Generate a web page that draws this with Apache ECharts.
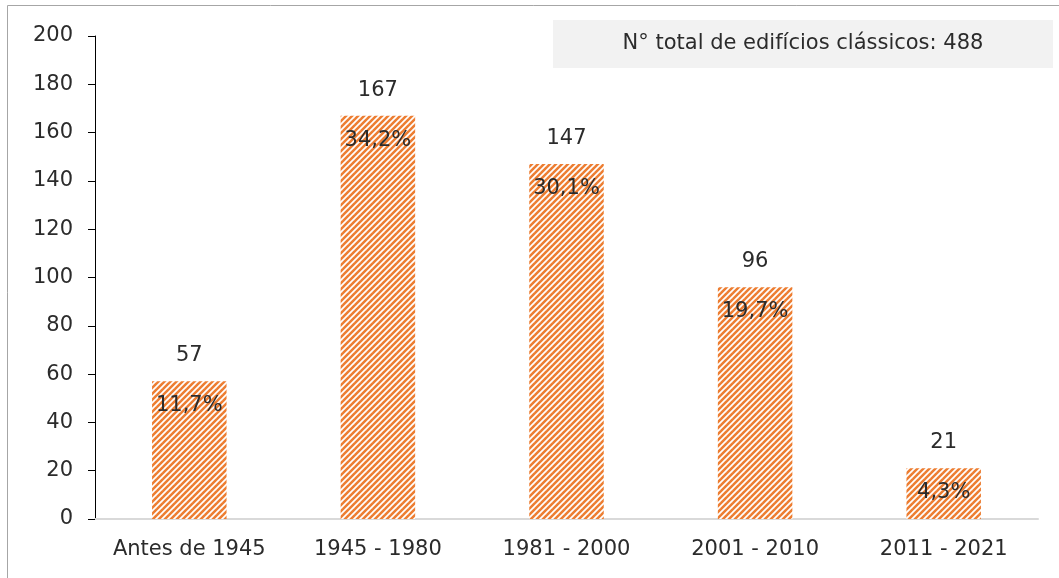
<!DOCTYPE html>
<html>
<head>
<meta charset="utf-8">
<title>Edifícios clássicos por época de construção</title>
<script src="https://cdn.jsdelivr.net/npm/echarts@6/dist/echarts.min.js"></script>
<style>
  html, body { margin: 0; padding: 0; background: #fff; }
  #chart { width: 1059px; height: 578px; }
</style>
</head>
<body>
<div id="chart"></div>
<script>
// Época de construção dos edifícios clássicos
const categories = ['Antes de 1945', '1945 - 1980', '1981 - 2000', '2001 - 2010', '2011 - 2021'];
const buildings = [57, 167, 147, 96, 21];
const totalBuildings = 488;
const yTicks = { min: 0, max: 200, interval: 20 };

const FONT = 'DejaVu Sans';
const FONT_SIZE = 21;
const TEXT = '#2b2b2b';
const ORANGE = '#ED7D31';

// Diagonal hatch fill ("/" stripes) for the bars
function stripeTile() {
  const size = 6;
  const c = document.createElement('canvas');
  c.width = size; c.height = size;
  const g = c.getContext('2d');
  g.fillStyle = '#ffffff';
  g.fillRect(0, 0, size, size);
  g.strokeStyle = ORANGE;
  g.lineWidth = 2.5;
  for (let k = -1; k <= 1; k++) {
    g.beginPath();
    g.moveTo(k * size - 1, size + 1);
    g.lineTo(k * size + size + 1, -1);
    g.stroke();
  }
  return c;
}

const pct = v => (v / totalBuildings * 100).toFixed(1).replace('.', ',') + '%';

const chart = echarts.init(document.getElementById('chart'), null, { renderer: 'canvas' });
chart.setOption({
  animation: false,
  backgroundColor: '#ffffff',
  grid: { left: 95, right: 21, top: 36, bottom: 59, containLabel: false },
  xAxis: {
    type: 'category',
    data: categories,
    axisLine: { show: true, lineStyle: { color: '#d9d9d9', width: 2 } },
    axisTick: { show: false },
    axisLabel: { interval: 0, color: TEXT, fontFamily: FONT, fontSize: FONT_SIZE, margin: 20 }
  },
  yAxis: {
    type: 'value',
    min: yTicks.min, max: yTicks.max, interval: yTicks.interval,
    splitLine: { show: false },
    axisLine: { show: true, lineStyle: { color: '#000000', width: 1 } },
    axisTick: { show: true, inside: false, length: 7, lineStyle: { color: '#000000' } },
    axisLabel: { color: TEXT, fontFamily: FONT, fontSize: FONT_SIZE, margin: 22 }
  },
  series: [
    {
      type: 'bar',
      data: buildings,
      barWidth: '39.5%',
      itemStyle: { color: { image: stripeTile(), repeat: 'repeat' } },
      label: {
        show: true, position: 'top', distance: 15,
        color: TEXT, fontFamily: FONT, fontSize: FONT_SIZE
      }
    },
    {
      // percentage of the total, written inside the top of each bar
      type: 'bar',
      data: buildings,
      barWidth: '39.5%',
      barGap: '-100%',
      silent: true,
      itemStyle: { color: 'rgba(0,0,0,0)' },
      label: {
        show: true, position: 'insideTop', distance: 14,
        formatter: p => pct(p.value),
        color: TEXT, fontFamily: FONT, fontSize: FONT_SIZE
      },
      z: 3
    }
  ],
  graphic: [
    {
      type: 'rect', z: -1, silent: true,
      shape: { x: 7.5, y: 5.5, width: 1100, height: 620 },
      style: { fill: 'none', stroke: '#a6a6a6', lineWidth: 1 }
    },
    {
      type: 'group', left: 553, top: 20,
      children: [
        { type: 'rect', shape: { x: 0, y: 0, width: 500, height: 48 }, style: { fill: '#f2f2f2' } },
        {
          type: 'text', x: 250, y: 24,
          style: {
            text: 'N° total de edifícios clássicos: ' + totalBuildings,
            fill: TEXT, font: FONT_SIZE + 'px "' + FONT + '"', align: 'center', verticalAlign: 'middle'
          }
        }
      ]
    }
  ]
});
</script>
</body>
</html>
